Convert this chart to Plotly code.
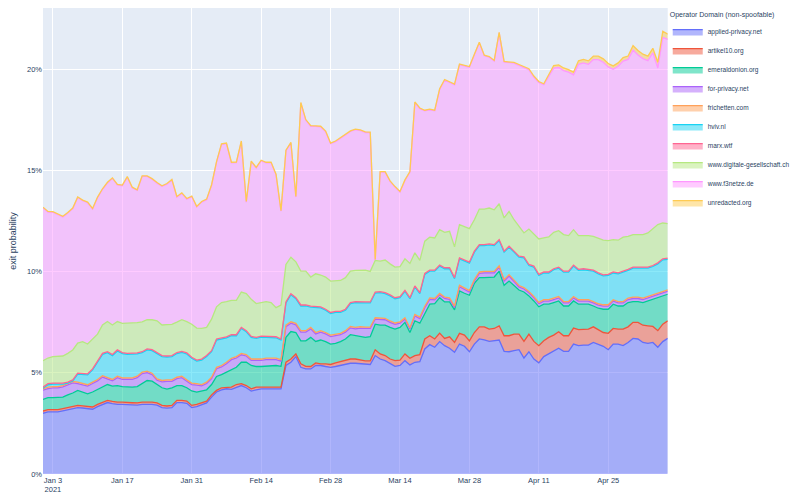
import pandas as pd
import plotly.graph_objects as go

# daily exit probability per operator domain, in percent
dates = pd.date_range("2021-01-01", "2021-05-07", freq="D")

applied_privacy = [
    3.00, 3.07, 3.07, 3.07, 3.12, 3.17, 3.23, 3.28, 3.26, 3.23, 3.20, 3.33, 3.44, 3.53, 3.48, 3.44,
    3.44, 3.41, 3.41, 3.40, 3.44, 3.44, 3.44, 3.40, 3.28, 3.25, 3.28, 3.53, 3.53, 3.49, 3.28, 3.33,
    3.44, 3.51, 3.80, 4.05, 4.16, 4.21, 4.18, 4.29, 4.37, 4.26, 4.10, 4.16, 4.21, 4.21, 4.21, 4.21,
    4.21, 5.36, 5.52, 5.80, 5.27, 5.19, 5.19, 5.36, 5.36, 5.31, 5.27, 5.31, 5.36, 5.44, 5.47, 5.47,
    5.44, 5.41, 5.41, 5.85, 5.68, 5.60, 5.47, 5.32, 5.36, 5.60, 5.39, 5.52, 5.55, 6.18, 6.39, 6.26,
    6.54, 6.34, 6.21, 6.01, 6.42, 6.31, 6.04, 6.42, 6.67, 6.63, 6.55, 6.60, 6.62, 6.06, 6.04, 6.09,
    6.14, 5.73, 6.04, 5.68, 5.49, 5.80, 5.93, 6.09, 6.21, 6.06, 6.06, 6.42, 6.34, 6.37, 6.37, 6.50,
    6.39, 6.31, 6.14, 6.42, 6.42, 6.34, 6.50, 6.70, 6.67, 6.50, 6.45, 6.50, 6.26, 6.54, 6.70,
]
artikel10 = [
    0.11, 0.11, 0.11, 0.11, 0.11, 0.11, 0.11, 0.11, 0.11, 0.11, 0.11, 0.11, 0.11, 0.11, 0.11, 0.11,
    0.11, 0.11, 0.11, 0.11, 0.11, 0.11, 0.11, 0.11, 0.11, 0.11, 0.11, 0.11, 0.11, 0.11, 0.11, 0.11,
    0.08, 0.09, 0.11, 0.08, 0.10, 0.08, 0.11, 0.13, 0.09, 0.11, 0.11, 0.13, 0.08, 0.08, 0.08, 0.08,
    0.08, 0.16, 0.16, 0.13, 0.17, 0.13, 0.12, 0.13, 0.08, 0.13, 0.14, 0.18, 0.19, 0.19, 0.21, 0.21,
    0.19, 0.18, 0.18, 0.29, 0.25, 0.25, 0.21, 0.28, 0.27, 0.33, 0.33, 0.33, 0.35, 0.49, 0.44, 0.41,
    0.42, 0.36, 0.57, 0.49, 0.53, 0.55, 0.54, 0.57, 0.60, 0.64, 0.61, 0.59, 0.70, 0.77, 0.79, 0.82,
    0.77, 0.82, 0.87, 0.87, 0.85, 0.78, 0.82, 0.77, 0.82, 0.77, 0.77, 0.79, 0.79, 0.79, 0.79, 0.77,
    0.74, 0.68, 0.81, 0.77, 0.74, 0.82, 0.77, 0.79, 0.82, 0.85, 0.87, 0.79, 0.82, 0.86, 0.87,
]
emeraldonion = [
    0.58, 0.59, 0.59, 0.59, 0.57, 0.63, 0.66, 0.74, 0.68, 0.62, 0.74, 0.72, 0.74, 0.78, 0.75, 0.82,
    0.77, 0.77, 0.77, 0.81, 0.94, 1.07, 1.04, 0.91, 0.87, 0.83, 0.87, 0.73, 0.73, 0.66, 0.71, 0.61,
    0.58, 0.56, 0.51, 0.69, 0.65, 0.74, 0.90, 0.85, 1.06, 1.15, 1.15, 1.02, 1.02, 1.03, 1.03, 1.07,
    1.03, 1.23, 1.36, 1.06, 1.14, 1.26, 1.44, 1.06, 1.18, 1.10, 1.01, 0.96, 0.99, 1.04, 1.20, 1.15,
    1.15, 1.16, 1.19, 1.26, 1.42, 1.50, 1.56, 1.56, 1.61, 1.56, 1.27, 1.72, 1.55, 1.23, 1.56, 1.75,
    1.75, 1.80, 1.72, 1.61, 2.09, 2.07, 2.25, 2.43, 2.43, 2.43, 2.54, 2.54, 2.70, 2.49, 2.70, 2.41,
    2.18, 2.44, 1.89, 2.00, 1.92, 1.81, 1.64, 1.61, 1.52, 1.47, 1.47, 1.34, 1.26, 1.23, 1.23, 1.03,
    1.06, 1.15, 1.19, 1.20, 1.14, 1.14, 1.20, 1.03, 1.03, 1.12, 1.23, 1.34, 1.63, 1.40, 1.31,
]
for_privacy = [
    0.45, 0.45, 0.48, 0.48, 0.50, 0.48, 0.50, 0.34, 0.34, 0.38, 0.42, 0.44, 0.50, 0.29, 0.26, 0.39,
    0.36, 0.39, 0.39, 0.44, 0.47, 0.39, 0.32, 0.21, 0.29, 0.39, 0.32, 0.34, 0.39, 0.32, 0.32, 0.34,
    0.25, 0.31, 0.29, 0.38, 0.38, 0.42, 0.46, 0.46, 0.37, 0.31, 0.25, 0.30, 0.30, 0.33, 0.33, 0.29,
    0.26, 0.53, 0.41, 0.38, 0.43, 0.43, 0.42, 0.37, 0.39, 0.38, 0.37, 0.39, 0.34, 0.34, 0.34, 0.34,
    0.43, 0.44, 0.41, 0.25, 0.30, 0.27, 0.25, 0.23, 0.21, 0.16, 0.17, 0.24, 0.23, 0.32, 0.24, 0.18,
    0.14, 0.17, 0.13, 0.11, 0.21, 0.19, 0.16, 0.11, 0.21, 0.24, 0.24, 0.21, 0.20, 0.21, 0.25, 0.21,
    0.15, 0.15, 0.15, 0.15, 0.15, 0.15, 0.15, 0.15, 0.15, 0.15, 0.15, 0.15, 0.15, 0.15, 0.15, 0.15,
    0.15, 0.15, 0.15, 0.15, 0.15, 0.15, 0.15, 0.15, 0.15, 0.15, 0.15, 0.15, 0.15, 0.15, 0.15,
]
frichetten = [0.07] * 127
hviv = [
    0.03, 0.12, 0.12, 0.12, 0.07, 0.03, 0.03, 0.39, 0.47, 0.49, 0.60, 0.85, 1.05, 1.21, 1.18, 1.25,
    1.20, 1.16, 1.16, 1.10, 0.96, 1.05, 1.11, 1.26, 1.18, 1.13, 1.15, 1.17, 1.18, 1.28, 1.23, 1.12,
    1.21, 1.26, 1.26, 1.35, 1.31, 1.21, 1.11, 1.03, 1.23, 1.13, 1.07, 1.02, 1.08, 1.04, 1.01, 1.01,
    0.97, 1.10, 1.34, 1.22, 1.22, 1.22, 1.00, 1.22, 1.13, 1.10, 1.07, 1.07, 1.03, 1.01, 1.13, 1.23,
    1.17, 1.19, 1.19, 1.22, 1.24, 1.22, 1.24, 1.20, 1.19, 1.30, 1.43, 1.36, 1.16, 1.57, 1.32, 1.35,
    1.35, 1.40, 1.44, 1.36, 1.31, 1.32, 1.36, 1.36, 1.30, 1.27, 1.31, 1.27, 1.24, 1.36, 1.35, 1.36,
    1.40, 1.47, 1.28, 1.45, 1.33, 1.32, 1.32, 1.40, 1.40, 1.45, 1.45, 1.50, 1.45, 1.48, 1.45, 1.50,
    1.48, 1.43, 1.45, 1.32, 1.37, 1.45, 1.37, 1.43, 1.43, 1.48, 1.40, 1.40, 1.45, 1.56, 1.51,
]
marx = [0.05] * 127
digitale_gesellschaft = [
    1.31, 1.27, 1.31, 1.31, 1.34, 1.42, 1.48, 1.49, 1.56, 1.47, 1.48, 1.34, 1.40, 1.49, 1.46, 1.40,
    1.44, 1.48, 1.51, 1.50, 1.48, 1.45, 1.48, 1.56, 1.51, 1.55, 1.54, 1.50, 1.56, 1.55, 1.63, 1.58,
    1.51, 1.39, 1.56, 1.59, 1.75, 1.74, 1.70, 1.70, 1.75, 1.83, 1.83, 1.67, 1.66, 1.71, 1.69, 1.44,
    1.68, 1.85, 1.80, 1.77, 1.67, 1.67, 1.44, 1.63, 1.57, 1.59, 1.55, 1.53, 1.53, 1.56, 1.55, 1.54,
    1.57, 1.57, 1.51, 1.56, 1.51, 1.61, 1.53, 1.51, 1.48, 1.56, 1.69, 1.64, 1.59, 1.59, 1.63, 1.59,
    1.75, 1.75, 1.80, 1.52, 1.64, 1.64, 1.65, 1.55, 1.76, 1.76, 1.77, 1.72, 1.77, 1.64, 1.72, 1.55,
    1.48, 1.18, 1.75, 1.56, 1.75, 1.68, 1.73, 1.80, 1.80, 1.81, 1.76, 1.75, 1.67, 1.64, 1.67, 1.67,
    1.72, 1.71, 1.67, 1.60, 1.61, 1.68, 1.63, 1.61, 1.61, 1.61, 1.69, 1.80, 1.89, 1.77, 1.71,
]
f3netze = [
    7.55, 7.21, 7.13, 7.01, 6.87, 6.93, 6.98, 7.19, 6.96, 6.98, 6.42, 6.74, 6.70, 6.85, 7.24, 6.75,
    6.80, 7.22, 6.67, 6.53, 7.18, 7.07, 6.94, 6.80, 6.85, 6.94, 7.13, 6.18, 6.24, 6.05, 6.30, 5.98,
    6.24, 6.31, 6.61, 7.14, 7.81, 7.80, 6.79, 6.80, 7.43, 4.52, 6.80, 6.70, 7.00, 6.85, 6.91, 6.56,
    4.63, 5.62, 5.64, 3.20, 8.30, 7.46, 7.45, 7.28, 7.32, 7.18, 6.79, 6.86, 7.03, 7.08, 6.90, 6.95,
    6.90, 6.80, 6.85, 0.02, 4.39, 4.34, 4.07, 3.95, 3.69, 3.87, 4.51, 7.42, 7.50, 6.44, 6.29, 6.28,
    6.93, 7.52, 7.37, 8.01, 7.90, 7.95, 7.98, 8.15, 8.21, 7.57, 7.45, 7.35, 8.44, 7.70, 7.34, 7.74,
    7.94, 8.17, 7.87, 7.78, 7.73, 7.57, 7.93, 8.11, 8.06, 8.10, 8.07, 7.65, 8.46, 8.53, 8.46, 8.73,
    8.81, 8.79, 8.58, 8.41, 8.59, 8.70, 8.74, 9.11, 8.87, 8.69, 8.51, 8.71, 7.74, 9.17, 9.10,
]
unredacted = (
    [0.03] * 96 + [0.05] * 6 + [0.13] * 6 + [0.17] * 11 + [0.22] * 5 + [0.28, 0.30, 0.26]
)

series = {
    "applied-privacy.net": applied_privacy,
    "artikel10.org": artikel10,
    "emeraldonion.org": emeraldonion,
    "for-privacy.net": for_privacy,
    "frichetten.com": frichetten,
    "hviv.nl": hviv,
    "marx.wtf": marx,
    "www.digitale-gesellschaft.ch": digitale_gesellschaft,
    "www.f3netze.de": f3netze,
    "unredacted.org": unredacted,
}

fig = go.Figure()
for name, vals in series.items():
    fig.add_trace(go.Scatter(
        x=dates, y=vals, name=name, mode="lines", line=dict(width=1.3),
        stackgroup="one", legendgroup=name,
        hovertemplate=name + "<br>%{x}<br>%{y:.2f}%<extra></extra>",
    ))

# page body adds an 8px offset, so the figure is 8px smaller than the window
fig.update_layout(
    width=792, height=486,
    template="plotly",
    font=dict(family="Liberation Sans, Arial, sans-serif", size=7.5),
    margin=dict(l=35, r=132, t=0, b=20),
    legend=dict(title=dict(text="Operator Domain (non-spoofable)", font=dict(size=7)),
                font=dict(size=6.5), traceorder="normal", tracegroupgap=0, itemwidth=30,
                xref="container", yref="container", x=0.833, y=1,
                xanchor="left", yanchor="top"),
    yaxis=dict(title_text="exit probability", ticksuffix="%", automargin=False),
    xaxis=dict(tick0="2021-01-03", dtick=14 * 86400000, automargin=False),
)

fig.write_html("out.html")
